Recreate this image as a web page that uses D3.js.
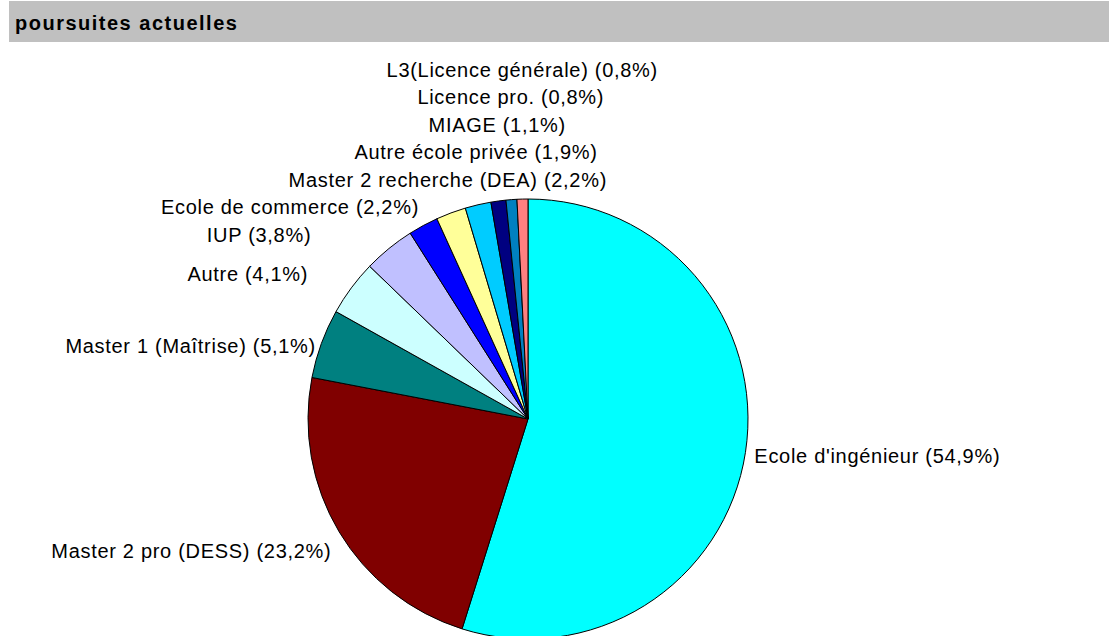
<!DOCTYPE html>
<html>
<head>
<meta charset="utf-8">
<script src="https://cdn.jsdelivr.net/npm/d3@7"></script>
<style>
  html, body { margin: 0; padding: 0; background: #fff; }
  svg { display: block; }
</style>
</head>
<body>
<svg id="chart" width="1111" height="636"></svg>
<script>
// Poursuites d'études actuelles : part de chaque filière (en %)
const title = "poursuites actuelles";
const categories = [
  "Ecole d'ingénieur",
  "Master 2 pro (DESS)",
  "Master 1 (Maîtrise)",
  "Autre",
  "IUP",
  "Ecole de commerce",
  "Master 2 recherche (DEA)",
  "Autre école privée",
  "MIAGE",
  "Licence pro.",
  "L3(Licence générale)"
];
const shares = [54.9, 23.2, 5.1, 4.1, 3.8, 2.2, 2.2, 1.9, 1.1, 0.8, 0.8];
const sliceColors = [
  "#00FFFF", "#800000", "#008080", "#CCFFFF", "#C0C0FF", "#0000FF",
  "#FFFF99", "#00CCFF", "#000080", "#0080C0", "#FF8080"
];

// Layout
const W = 1111, H = 636;
const cx = 528, cy = 419, radius = 220;
const labelGap = 9;          // distance of the label anchor outside the rim
const lineStep = 27.5;       // minimum vertical spacing between stacked labels
const halfBox = 13.75;
const fontSize = 20;
// small hand adjustments of label placement (dx, dy)
const labelNudge = [[0,0],[0,8],[3,10],[-36,0],[-72,4],[0,2],[0,0],[0,0],[0,0],[0,0],[0,0]];

const svg = d3.select("#chart");

// Title band
svg.append("rect")
  .attr("x", 9).attr("y", 1).attr("width", 1100).attr("height", 41)
  .attr("fill", "#C0C0C0");
svg.append("text")
  .attr("x", 15).attr("y", 30)
  .attr("font-family", "'Liberation Sans', Arial, sans-serif")
  .attr("font-weight", "bold")
  .attr("font-size", 20)
  .attr("letter-spacing", 1.5)
  .attr("fill", "#000")
  .text(title);

const data = categories.map((name, i) => ({ name, value: shares[i], color: sliceColors[i] }));

const pie = d3.pie().sort(null).value(d => d.value);
const arcs = pie(data);
const arc = d3.arc().innerRadius(0).outerRadius(radius);

const g = svg.append("g").attr("transform", `translate(${cx},${cy})`);
g.selectAll("path")
  .data(arcs)
  .join("path")
  .attr("d", arc)
  .attr("fill", d => d.data.color)
  .attr("stroke", "#000")
  .attr("stroke-width", 1)
  .attr("stroke-linejoin", "round");

// Label placement: anchor on the slice bisector just outside the rim
const fmt = v => v.toFixed(1).replace(".", ",");
const labels = arcs.map((a, i) => {
  const theta = (a.startAngle + a.endAngle) / 2;
  const s = Math.sin(theta), c = Math.cos(theta);
  const px = cx + (radius + labelGap) * s;
  const py = cy - (radius + labelGap) * c;
  let anchor, x, y;
  if (Math.abs(s) < 0.4) {
    anchor = "middle"; x = px; y = py - (c > 0 ? halfBox : -halfBox);
  } else {
    anchor = s > 0 ? "start" : "end"; x = px; y = py - c * halfBox;
  }
  x += labelNudge[i][0];
  y += labelNudge[i][1];
  return { text: `${a.data.name} (${fmt(a.data.value)}%)`, x, y, anchor, theta };
});

// Stack the left-hand labels upward so they do not collide
let prevY = Infinity;
labels.forEach((l, i) => {
  if (i === 0) return;
  if (l.y > prevY - lineStep) l.y = prevY - lineStep;
  prevY = l.y;
});

svg.append("g")
  .selectAll("text")
  .data(labels)
  .join("text")
  .attr("x", d => d.x)
  .attr("y", d => d.y + 7)
  .attr("text-anchor", d => d.anchor)
  .attr("font-family", "'Liberation Sans', Arial, sans-serif")
  .attr("font-size", fontSize)
  .attr("letter-spacing", 0.7)
  .attr("fill", "#000")
  .text(d => d.text);
</script>
</body>
</html>
